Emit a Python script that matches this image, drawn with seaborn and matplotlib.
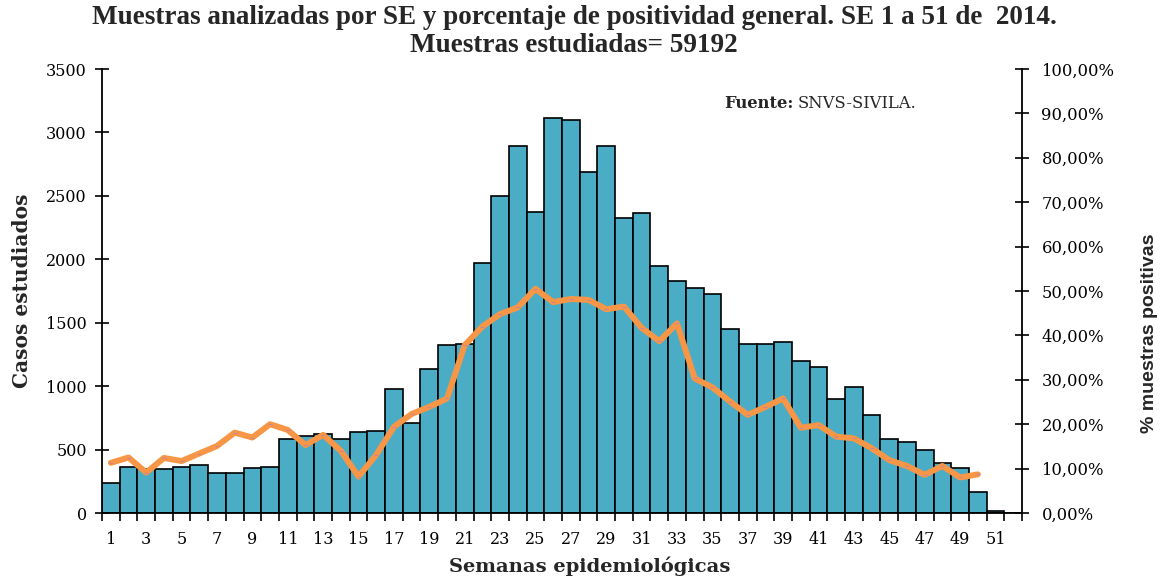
import numpy as np
import pandas as pd
import matplotlib
matplotlib.use("Agg")
import matplotlib.pyplot as plt
import seaborn as sns
from matplotlib.ticker import FixedLocator, FuncFormatter

# ---- data ----
weeks = list(range(1, 53))
muestras = [240, 365, 345, 350, 365, 378, 318, 318, 355, 365,
            583, 610, 623, 583, 636, 644, 977, 712, 1138, 1324,
            1335, 1973, 2501, 2893, 2373, 3114, 3101, 2686, 2893, 2328,
            2362, 1947, 1831, 1774, 1726, 1453, 1335, 1335, 1348, 1198,
            1153, 896, 991, 770, 586, 562, 497, 392, 357, 168,
            15, 0]
positividad = [11.3, 12.5, 9.1, 12.4, 11.7, 13.4, 15.1, 18.1, 17.0, 20.0,
               18.7, 15.3, 17.6, 14.0, 8.2, 13.1, 19.4, 22.3, 23.9, 25.8,
               37.8, 42.0, 44.8, 46.3, 50.5, 47.5, 48.2, 48.0, 45.9, 46.5,
               41.7, 38.7, 42.7, 30.3, 28.3, 25.1, 22.1, 23.9, 25.8, 19.2,
               19.8, 17.2, 16.8, 14.6, 11.9, 10.6, 8.6, 10.6, 8.0, 8.7]
xtick_labels = [str(w) for w in range(1, 52, 2)]

title_1 = "Muestras analizadas por SE y porcentaje de positividad general. SE 1 a 51 de  2014."
title_2 = "Muestras estudiadas= 59192"

sns.set_theme(style="white")
plt.rcParams['font.family'] = ['DejaVu Serif']

fig = plt.figure(figsize=(11.63, 5.80), dpi=100)
ax = fig.add_axes([102/1163, 1-513/580, 920/1163, 444/580])

df = pd.DataFrame({"week": [str(w) for w in weeks], "n": muestras})
sns.barplot(data=df, x="week", y="n", order=[str(w) for w in weeks],
            color="#4BACC6", saturation=1, width=1.0,
            edgecolor="black", linewidth=1.2, ax=ax)

ax2 = ax.twinx()
pos = np.arange(len(positividad))
sns.lineplot(x=pos, y=np.array(positividad) / 100.0, ax=ax2, color="#F79646",
             linewidth=4.3, marker="_", markersize=3.5,
             markeredgecolor="#c9849a", markeredgewidth=0.8, zorder=5)

ax.set_xlim(-0.5, 51.5)
ax.set_ylim(0, 3500)
ax2.set_ylim(0, 1.0)

# x ticks
ax.xaxis.set_major_locator(FixedLocator(np.arange(0, 52, 2)))
ax.set_xticklabels(xtick_labels)
ax.xaxis.set_minor_locator(FixedLocator(np.arange(-0.5, 52, 1)))
ax.tick_params(axis="x", which="major", length=0, labelsize=11.5, pad=13, colors="black")
ax.tick_params(axis="x", which="minor", length=6, width=1.2, direction="out", bottom=True, color="black")

# y ticks
ax.set_yticks(np.arange(0, 3501, 500))
ax.tick_params(axis="y", which="major", length=10, width=1.2, direction="inout",
               labelsize=11.5, left=True, colors="black", pad=6)
ax2.set_yticks(np.arange(0, 1.0001, 0.1))
ax2.yaxis.set_major_formatter(FuncFormatter(lambda v, p: f"{v*100:.2f}%".replace(".", ",")))
ax2.tick_params(axis="y", which="major", length=10, width=1.2, direction="inout",
                labelsize=11.8, right=True, colors="black", pad=9)

for a in (ax, ax2):
    a.grid(False)
    a.spines["top"].set_visible(False)
    for s in ("left", "right", "bottom"):
        a.spines[s].set_color("black")
        a.spines[s].set_linewidth(1.3)
ax.spines["right"].set_visible(False)
ax2.spines["left"].set_visible(False)
ax2.spines["bottom"].set_visible(False)

ax.set_xlabel("")
fig.text(589.5/1163, 1-566/580, "Semanas epidemiológicas", ha="center", va="center",
         fontsize=14, fontweight="bold")
ax.set_ylabel("Casos estudiados", fontsize=14.5, fontweight="bold", labelpad=10)
ax2.set_ylabel("")
fig.text(1150/1163, 1-333/580, "% muestras positivas", rotation=90, ha="center",
         va="center", fontsize=14, fontweight="bold",
         family=["Liberation Sans", "DejaVu Sans"])

fig.text(0.4935, 1-18/580, title_1, ha="center", va="center", fontsize=19.5,
         fontweight="bold", family=["Liberation Serif", "DejaVu Serif"])
fig.text(0.4935, 1-45/580, title_2, ha="center", va="center", fontsize=19.5,
         fontweight="bold", family=["Liberation Serif", "DejaVu Serif"])

t1 = fig.text(724/1163, 1-104/580, "Fuente:", ha="left", va="center",
              fontsize=11.8, fontweight="bold")
fig.canvas.draw()
bb = t1.get_window_extent()
x2 = (bb.x1 + 4) / fig.bbox.width
fig.text(x2, 1-104/580, "SNVS-SIVILA.", ha="left", va="center", fontsize=11.8)

fig.savefig("out.png", dpi=100)
